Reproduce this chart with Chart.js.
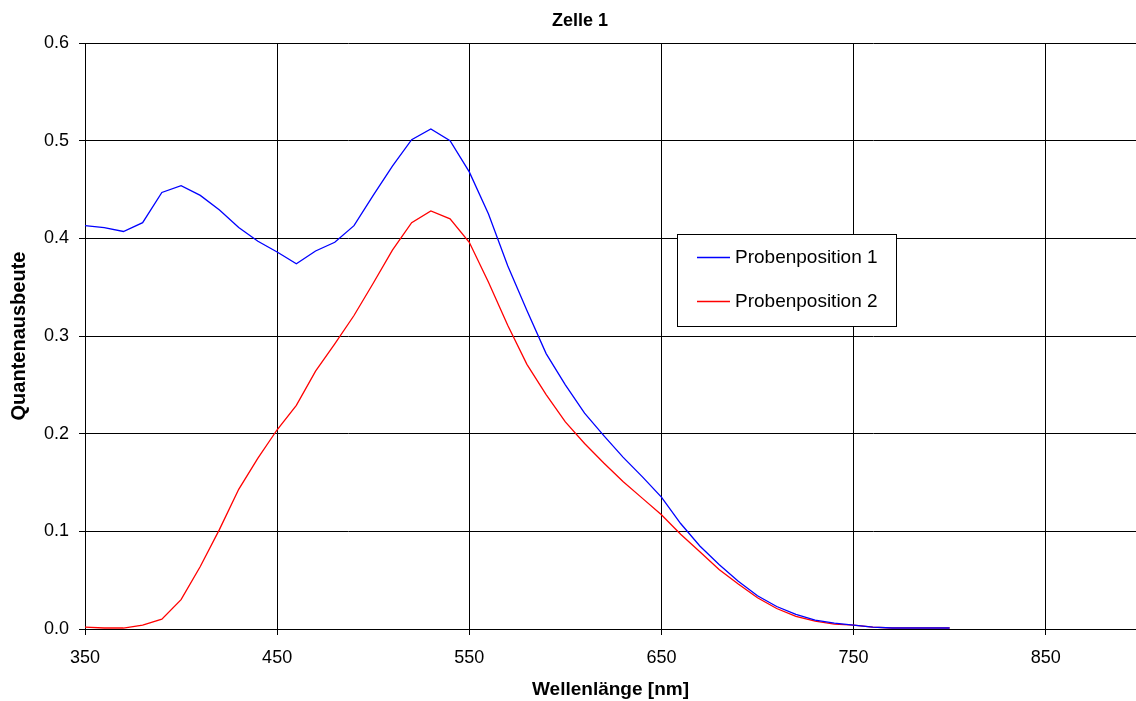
<!DOCTYPE html>
<html>
<head>
<meta charset="utf-8">
<script src="https://cdn.jsdelivr.net/npm/chart.js@4.4.1/dist/chart.umd.min.js"></script>
<style>
    html, body { margin: 0; padding: 0; background: #fff; }
</style>
</head>
<body>
<canvas id="chart" width="1136" height="701"></canvas>
<script>
// Data (10 nm steps)
const wavelengths = [350, 360, 370, 380, 390, 400, 410, 420, 430, 440,
                     450, 460, 470, 480, 490, 500, 510, 520, 530, 540,
                     550, 560, 570, 580, 590, 600, 610, 620, 630, 640,
                     650, 660, 670, 680, 690, 700, 710, 720, 730, 740,
                     750, 760, 770, 780, 790, 800];

const probe1 = [0.413, 0.411, 0.407, 0.416, 0.447, 0.454, 0.444, 0.429, 0.411, 0.397,
                0.386, 0.374, 0.387, 0.396, 0.413, 0.444, 0.474, 0.501, 0.512, 0.500,
                0.468, 0.425, 0.372, 0.326, 0.282, 0.250, 0.221, 0.198, 0.176, 0.156,
                0.135, 0.108, 0.085, 0.066, 0.049, 0.034, 0.023, 0.015, 0.009, 0.006,
                0.004, 0.002, 0.001, 0.001, 0.001, 0.001];

const probe2 = [0.002, 0.001, 0.001, 0.004, 0.010, 0.030, 0.064, 0.102, 0.143, 0.175,
                0.204, 0.229, 0.264, 0.292, 0.321, 0.354, 0.388, 0.416, 0.428, 0.420,
                0.396, 0.355, 0.311, 0.271, 0.240, 0.212, 0.190, 0.170, 0.151, 0.134,
                0.117, 0.097, 0.079, 0.061, 0.046, 0.032, 0.021, 0.013, 0.008, 0.005,
                0.004, 0.002, 0.001, 0.001, 0.001, 0.001];

const seriesNames = ['Probenposition 1', 'Probenposition 2'];
const seriesColors = ['#0000ff', '#ff0000'];
const xTicks = [350, 450, 550, 650, 750, 850];
const yTicks = [0, 0.1, 0.2, 0.3, 0.4, 0.5, 0.6];

const FONT = "'Liberation Sans', Arial, sans-serif";

// Title + boxed legend, drawn by hand
const decorPlugin = {
    id: 'decor',
    afterDatasetsDraw(chart) {
        const c = chart.ctx;
        c.save();
        // legend box
        c.fillStyle = '#fff';
        c.fillRect(677, 234, 219, 92);
        c.strokeStyle = '#000';
        c.lineWidth = 1;
        c.strokeRect(677.5, 234.5, 219, 92);
        c.font = '19px ' + FONT;
        c.textBaseline = 'middle';
        seriesNames.forEach((name, i) => {
            const y = 257.5 + i * 44;
            c.strokeStyle = seriesColors[i];
            c.lineWidth = 1.3;
            c.beginPath();
            c.moveTo(697, y);
            c.lineTo(730, y);
            c.stroke();
            c.fillStyle = '#000';
            c.fillText(name, 735, y);
        });
        // title
        c.font = 'bold 18px ' + FONT;
        c.textAlign = 'center';
        c.fillText('Zelle 1', 580, 21);
        c.restore();
    }
};

const ctx = document.getElementById('chart').getContext('2d');

new Chart(ctx, {
    type: 'line',
    data: {
        datasets: [
            {
                label: seriesNames[0],
                data: wavelengths.map((x, i) => ({ x, y: probe1[i] })),
                borderColor: seriesColors[0],
                borderWidth: 1.3,
                pointRadius: 0,
                tension: 0,
            },
            {
                label: seriesNames[1],
                data: wavelengths.map((x, i) => ({ x, y: probe2[i] })),
                borderColor: seriesColors[1],
                borderWidth: 1.3,
                pointRadius: 0,
                tension: 0,
            }
        ]
    },
    options: {
        responsive: false,
        animation: false,
        layout: { padding: { top: 43, left: 0, right: 0, bottom: 0 } },
        plugins: {
            legend: { display: false },
            tooltip: { enabled: false },
        },
        scales: {
            x: {
                type: 'linear',
                min: 350,
                max: 897,
                afterBuildTicks: s => { s.ticks = xTicks.map(v => ({ value: v })); },
                afterFit: s => { s.height = 72; },
                grid: { color: '#000', lineWidth: 1, tickLength: 6 },
                border: { color: '#000' },
                ticks: {
                    color: '#000',
                    padding: 12,
                    maxRotation: 0,
                    font: { family: FONT, size: 18 },
                },
                title: {
                    display: true,
                    text: 'Wellenlänge [nm]',
                    color: '#000',
                    padding: { top: 0, bottom: 0 },
                    font: { family: FONT, size: 19, weight: 'bold' },
                },
            },
            y: {
                min: 0,
                max: 0.6,
                afterBuildTicks: s => { s.ticks = yTicks.map(v => ({ value: v })); },
                afterFit: s => { s.width = 85; },
                grid: { color: '#000', lineWidth: 1, tickLength: 6 },
                border: { color: '#000' },
                ticks: {
                    color: '#000',
                    padding: 10,
                    font: { family: FONT, size: 18 },
                    callback: v => v.toFixed(1),
                },
                title: {
                    display: true,
                    text: 'Quantenausbeute',
                    color: '#000',
                    padding: { top: 7, bottom: 0 },
                    font: { family: FONT, size: 20, weight: 'bold' },
                },
            }
        }
    },
    plugins: [decorPlugin]
});
</script>
</body>
</html>
